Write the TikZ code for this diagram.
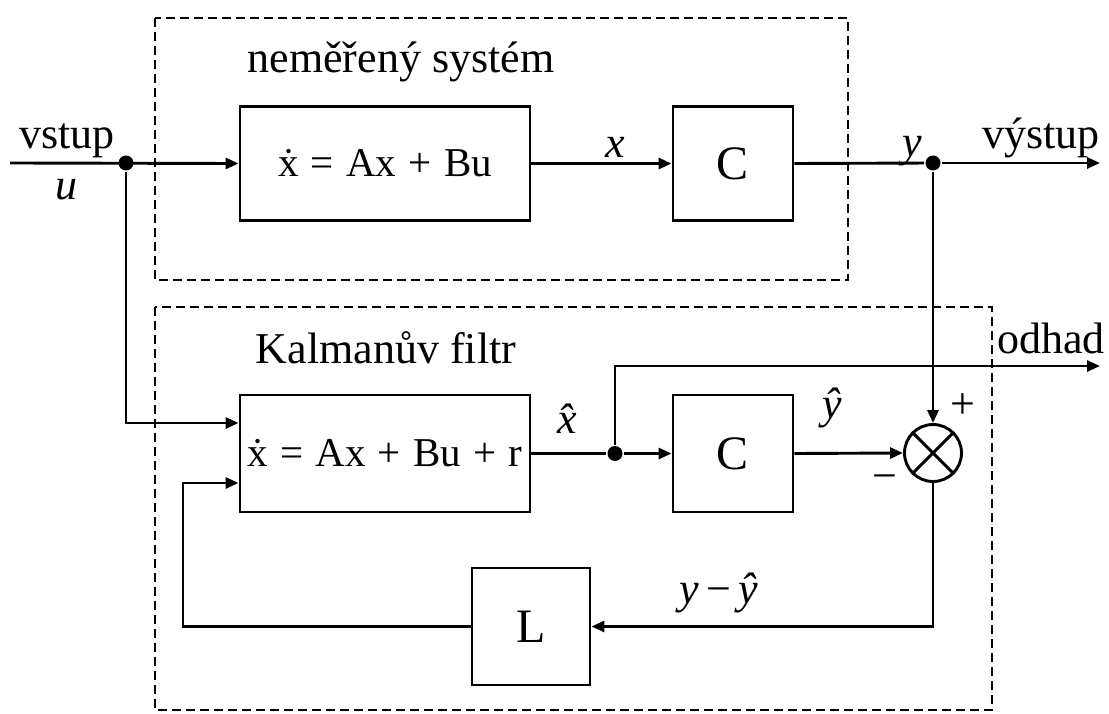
\documentclass[tikz,border=0pt]{standalone}
\usepackage{fontspec}
\setmainfont{Liberation Serif}
\usetikzlibrary{arrows.meta}
\newcommand{\eqsp}{\hspace{0.3em}}
\begin{document}
\begin{tikzpicture}[x=1pt,y=-1pt,line width=2.9pt,
  blk/.style={draw,inner sep=0pt,font=\fontsize{41}{46}\selectfont},
  bigblk/.style={draw,inner sep=0pt,font=\fontsize{48}{54}\selectfont},
  lbl/.style={inner sep=0pt,font=\fontsize{44}{50}\selectfont},
  arr/.style={-{Triangle[length=13pt,width=11pt]}},
  jdot/.style={circle,fill,inner sep=0pt,minimum size=15pt},
  frame/.style={draw,dash pattern=on 9pt off 5pt,line width=2.8pt},
  sumnode/.style={draw,circle,inner sep=0pt,minimum size=57pt}]
\useasboundingbox (0,0) rectangle (1109,714);
% frames
\draw[frame] (155,18) rectangle (848,280);
\draw[frame] (155,307) rectangle (992,710);
% blocks
\node[blk,minimum width=290pt,minimum height=114pt] (sys) at (385,163.5) {ẋ\eqsp=\eqsp Ax\eqsp+\eqsp Bu};
\node[bigblk,minimum width=120pt,minimum height=114pt] (C1) at (733,163.5) {\raisebox{-5pt}{C}};
\node[blk,minimum width=290pt,minimum height=117pt] (kf) at (385,453.5) {ẋ\eqsp=\eqsp Ax\eqsp+\eqsp Bu\eqsp+\eqsp r};
\node[bigblk,minimum width=120pt,minimum height=117pt] (C2) at (733,453.5) {\raisebox{-5pt}{C}};
\node[bigblk,minimum width=118pt,minimum height=117pt] (L) at (531,626.5) {\raisebox{-5pt}{L}};
\node[sumnode] (sum) at (933,453) {};
\draw (sum.north west) -- (sum.south east);
\draw (sum.north east) -- (sum.south west);
% coordinates
\coordinate (in) at (10,163);
\node[jdot] (j1) at (126,163) {};
\node[jdot] (j2) at (933,163) {};
\node[jdot] (j3) at (615,453.5) {};
\coordinate (out) at (1100,163);
\coordinate (odout) at (1100,366);
\coordinate (kin1) at ([yshift=30.5pt]kf.west);
\coordinate (kin2) at ([yshift=-29.5pt]kf.west);
\coordinate (fb) at (183,483);
% connectors
\draw[arr] (in) -- (sys.west);
\draw[arr] (sys.east) -- (C1.west);
\draw (C1.east) -- (j2);
\draw[arr] (j2) -- (out);
\draw[arr] (j2) -- (sum.north);
\draw[arr] (j1) |- (kin1);
\draw (kf.east) -- (j3);
\draw[arr] (j3) -- (C2.west);
\draw[arr] (j3) |- (odout);
\draw[arr] (C2.east) -- (sum.west);
\draw[arr] (sum.south) |- (L.east);
\draw[arr] (L.west) -| (fb) -- (kin2);
% labels
\node[lbl,anchor=base] (tsys) at (401,73) {neměřený systém};
\node[lbl,anchor=base] (tkf) at (386,363) {Kalmanův filtr};
\node[lbl,anchor=base] (tvstup) at (67,149) {vstup};
\node[lbl,anchor=base] (tu) at (66,200) {\textit{u}};
\node[lbl,anchor=base] (tx) at (615,158) {\textit{x}};
\node[lbl,anchor=base] (ty) at (912,157) {\textit{y}};
\node[lbl,anchor=base] (tvys) at (1041,149) {výstup};
\node[lbl,anchor=base] (tod) at (1051,353) {odhad};
\node[lbl,anchor=base] (txh) at (575,433) {\textit{\^{x}}};
\node[lbl,anchor=base] (tyh) at (832,418) {\textit{\^{y}}};
\node[lbl] (tplus) at (963,406) {+};
\node[lbl] (tminus) at (885,483) {−};
\node[lbl,anchor=base] (tdiff) at (719,603) {\textit{y}\,−\,\textit{\^{y}}};
\end{tikzpicture}
\end{document}
